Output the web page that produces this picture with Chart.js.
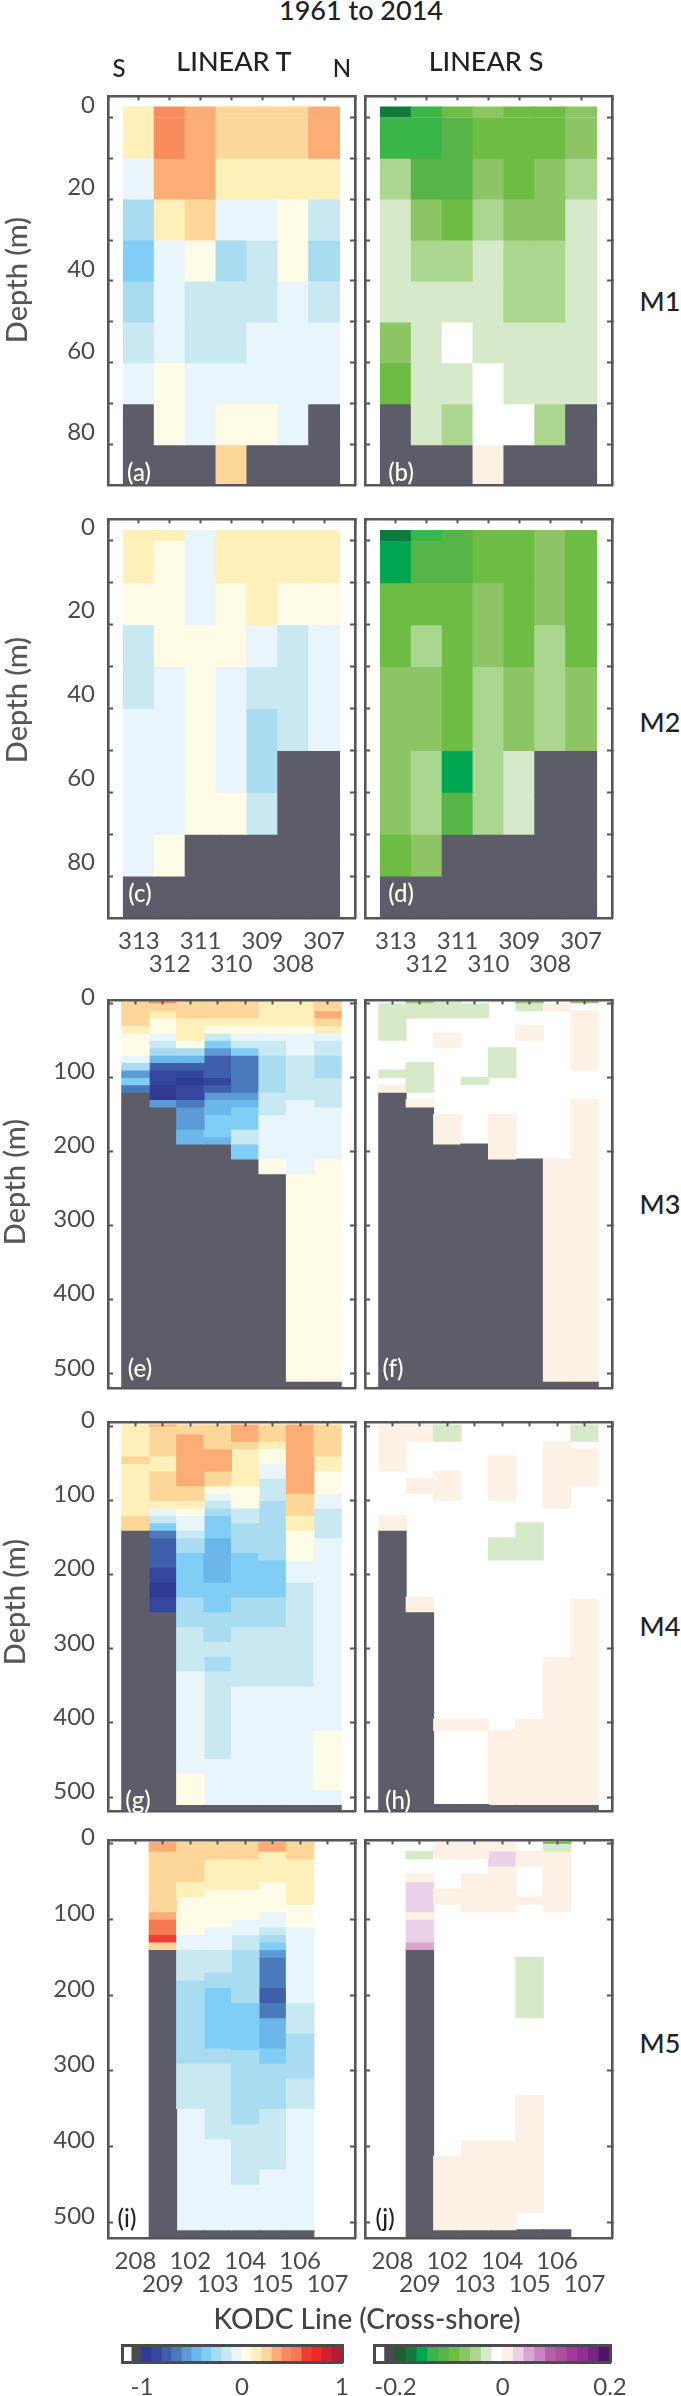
<!DOCTYPE html>
<html>
<head>
<meta charset="utf-8">
<title>1961 to 2014</title>
<script src="https://cdn.jsdelivr.net/npm/chart.js@4"></script>
<style>
html,body{margin:0;padding:0;background:#fff;width:681px;height:2396px;overflow:hidden;font-family:Lato,sans-serif}
canvas{position:absolute}
.t{position:absolute;transform:translate(-50%,-50%);white-space:nowrap;line-height:1;font-weight:500}
</style>
</head>
<body>
<script>
// --- Categories and axis ticks
const stationsM12 = ['313','312','311','310','309','308','307'];
const stationsM3  = ['','','','','','','',''];
const stationsM5  = ['208','209','102','103','104','105','106','107'];
const shelfDepthTicks = [0,10,20,30,40,50,60,70,80];
const deepDepthTicks  = [0,100,200,300,400,500];
const shelfRowEdges = [-2.5,0,10,20,30,40,50,60,70,80,90];

// --- Colour classes: T in 0.01 units from -1 to 1, S in 0.001 units from -0.2 to 0.2
const paletteT = ['#2e3a94','#34479f','#3f5fac','#4a7abb','#5b9ad5','#6cb7e9','#80cdf6','#a9dcf1','#c8e8f2','#e8f5fa',
                  '#fffbe6','#fff0b9','#fdd799','#fbad75','#f98c5c','#f47a50','#ef3d33','#ee2a2a','#d21f2e','#b61c30'];
const paletteS = ['#1f5f2e','#0f7a3c','#00a651','#39b54a','#57b446','#6dbd45','#8dc464','#abd690','#d6e9c8','#ffffff',
                  '#fdf1e6','#ebd0e9','#dda4cf','#c884bf','#b75fa8','#ab4f9f','#a73a98','#962d91','#7a2484','#4e1664'];
const landColor = '#5d5d69';
const L = null; // land / below bottom

// --- Series values: M1, M2 rows (top to bottom) by station
const tM1 = [
 [15,45,35,25,25,25,35],
 [15,45,35,25,25,25,35],
 [-5,35,35,15,15,15,15],
 [-25,15,25,-5,-5,5,-15],
 [-35,-5,5,-25,-15,5,-25],
 [-25,-5,-15,-15,-15,-5,-15],
 [-15,-5,-15,-15,-5,-5,-5],
 [-5,5,-5,-5,-5,-5,-5],
 [L,5,-5,5,5,-5,L],
 [L,L,L,25,L,L,L]];
const sM1 = [
 [-170,-130,-90,-70,-90,-90,-70],
 [-130,-130,-110,-90,-90,-90,-70],
 [-50,-110,-110,-70,-90,-70,-50],
 [-30,-70,-90,-50,-70,-70,-30],
 [-30,-50,-50,-30,-50,-50,-30],
 [-30,-30,-30,-30,-50,-50,-30],
 [-70,-30,-10,-30,-30,-30,-30],
 [-90,-30,-30,-10,-30,-30,-30],
 [L,-30,-50,-10,-10,-50,L],
 [L,L,L,10,L,L,L]];
const tM2 = [
 [15,15,-5,15,15,15,15],
 [15,5,-5,15,15,15,15],
 [5,5,-5,5,15,5,5],
 [-15,5,5,5,-5,-15,-5],
 [-15,-5,5,-5,-15,-15,-5],
 [-5,-5,5,-5,-25,-15,-5],
 [-5,-5,5,-5,-25,L,L],
 [-5,-5,5,5,-15,L,L],
 [-5,5,L,L,L,L,L],
 [L,L,L,L,L,L,L]];
const sM2 = [
 [-170,-130,-110,-90,-90,-70,-90],
 [-150,-110,-110,-90,-90,-70,-90],
 [-90,-90,-90,-70,-90,-70,-90],
 [-90,-50,-90,-70,-90,-50,-90],
 [-70,-70,-90,-50,-70,-50,-70],
 [-70,-70,-90,-50,-70,-50,-70],
 [-70,-50,-150,-50,-30,L,L],
 [-70,-50,-110,-50,-30,L,L],
 [-90,-70,L,L,L,L,L],
 [L,L,L,L,L,L,L]];

// --- Series values: M3 to M5, per station a list of [top depth, bottom depth, value]
const tM3 = [
 [[-2,30,25],[30,40,15],[40,70,5],[70,80,-5],[80,90,-25],[90,100,-55],[100,110,-35],[110,120,-65],[120,520,L]],
 [[-2,0,45],[0,10,25],[10,20,15],[20,40,5],[40,50,-5],[50,60,-15],[60,70,-25],[70,80,-45],[80,90,-75],[90,110,-85],[110,130,-95],[130,140,-55],[140,520,L]],
 [[-2,20,25],[20,50,15],[50,60,5],[60,70,-25],[70,80,-45],[80,90,-75],[90,100,-85],[100,110,-95],[110,130,-85],[130,140,-65],[140,170,-55],[170,190,-45],[190,520,L]],
 [[-2,20,25],[20,30,15],[30,40,5],[40,50,-15],[50,60,-35],[60,70,-55],[70,100,-75],[100,110,-85],[110,120,-75],[120,130,-55],[130,150,-45],[150,180,-35],[180,190,-45],[190,520,L]],
 [[-2,20,25],[20,30,15],[30,40,5],[40,50,-5],[50,60,-15],[60,70,-35],[70,120,-65],[120,130,-55],[130,140,-45],[140,170,-35],[170,190,-15],[190,210,-35],[210,520,L]],
 [[-2,30,15],[30,40,5],[40,50,-5],[50,70,-15],[70,120,-25],[120,150,-15],[150,210,-5],[210,230,5],[230,520,L]],
 [[-2,30,15],[30,40,5],[40,70,-5],[70,130,-15],[130,230,-5],[230,510,5],[510,520,L]],
 [[-2,10,25],[10,20,35],[20,30,25],[30,40,15],[40,50,-5],[50,70,-15],[70,100,-25],[100,140,-15],[140,210,-5],[210,510,5],[510,520,L]]];
const sM3 = [
 [[0,50,-30],[90,100,-30],[110,120,10],[120,520,L]],
 [[-2,0,-70],[0,20,-30],[80,120,-30],[130,140,10],[140,520,L]],
 [[-2,20,-30],[40,60,10],[150,190,10],[190,520,L]],
 [[0,20,-30],[100,110,-30],[190,520,L]],
 [[60,100,-30],[150,210,10],[210,520,L]],
 [[-2,0,-70],[0,10,-30],[30,50,10],[210,520,L]],
 [[0,10,10],[210,510,10],[510,520,L]],
 [[-2,0,-70],[10,90,10],[130,510,10],[510,520,L]]];
const tM4 = [
 [[-2,40,15],[40,50,25],[50,120,15],[120,140,25],[140,520,L]],
 [[-2,0,35],[0,40,25],[40,60,15],[60,100,25],[100,110,15],[110,120,-5],[120,130,-15],[130,140,-35],[140,150,-65],[150,190,-75],[190,210,-85],[210,230,-95],[230,250,-85],[250,520,L]],
 [[-2,10,25],[10,80,35],[80,100,25],[100,110,15],[110,120,5],[120,140,-5],[140,150,-15],[150,170,-25],[170,230,-35],[230,270,-25],[270,330,-15],[330,468,-5],[468,510,5],[510,520,L]],
 [[-2,30,25],[30,60,35],[60,80,25],[80,90,5],[90,100,-5],[100,110,-15],[110,120,-25],[120,150,-35],[150,210,-45],[210,250,-35],[250,290,-25],[290,310,-15],[310,330,-25],[330,448,-15],[448,510,-5],[510,520,L]],
 [[-2,20,35],[20,30,25],[30,80,15],[80,110,5],[110,130,-15],[130,170,-25],[170,230,-35],[230,270,-25],[270,350,-15],[350,510,-5],[510,520,L]],
 [[-2,20,25],[20,30,15],[30,50,5],[50,70,-5],[70,100,-15],[100,180,-25],[180,230,-35],[230,270,-25],[270,350,-15],[350,510,-5],[510,520,L]],
 [[-2,90,35],[90,120,25],[120,140,15],[140,180,5],[180,210,-5],[210,350,-15],[350,510,-5],[510,520,L]],
 [[-2,40,25],[40,60,15],[60,90,5],[90,110,-5],[110,150,-15],[150,410,-5],[410,490,5],[490,510,-5],[510,520,L]]];
const sM4 = [
 [[-2,60,10],[120,140,10],[140,520,L]],
 [[-2,20,10],[70,90,10],[230,250,10],[250,520,L]],
 [[-2,20,-30],[60,100,10],[395,410,10],[510,520,L]],
 [[395,410,10],[510,520,L]],
 [[40,100,10],[150,180,-30],[410,510,10],[510,520,L]],
 [[130,180,-30],[395,510,10],[510,520,L]],
 [[20,110,10],[312,510,10],[510,520,L]],
 [[-2,20,-30],[30,80,10],[233,510,10],[510,520,L]]];
const tM5 = [
 [],
 [[-2,10,35],[10,90,25],[90,100,35],[100,120,55],[120,130,65],[130,140,25],[140,520,L]],
 [[-2,50,25],[50,70,15],[70,120,5],[120,140,-5],[140,180,-15],[180,290,-25],[290,350,-15],[350,510,-5],[510,520,L]],
 [[-2,20,25],[20,60,15],[60,110,5],[110,140,-5],[140,170,-15],[170,190,-25],[190,270,-35],[270,290,-25],[290,390,-15],[390,510,-5],[510,520,L]],
 [[-2,20,25],[20,60,15],[60,100,5],[100,120,-5],[120,140,-15],[140,210,-25],[210,272,-35],[272,370,-25],[370,450,-15],[450,510,-5],[510,520,L]],
 [[-2,10,35],[10,50,15],[50,90,5],[90,110,-5],[110,120,-15],[120,130,-25],[130,140,-35],[140,150,-55],[150,190,-65],[190,210,-75],[210,230,-65],[230,270,-45],[270,290,-35],[290,350,-25],[350,430,-15],[430,510,-5],[510,520,L]],
 [[-2,20,25],[20,80,15],[80,110,5],[110,210,-5],[210,250,-15],[250,310,-25],[310,350,-15],[350,510,-5],[510,520,L]],
 []];
const sM5 = [
 [],
 [[10,20,-30],[40,50,10],[50,90,30],[90,100,10],[100,130,30],[130,140,50],[140,520,L]],
 [[-2,20,10],[60,80,10],[413,510,10],[510,520,L]],
 [[-2,20,10],[40,90,10],[393,510,10],[510,520,L]],
 [[-2,10,10],[10,30,30],[30,90,10],[393,510,10],[510,520,L]],
 [[10,30,10],[70,80,10],[150,230,-30],[333,488,10],[510,520,L]],
 [[-2,0,-90],[0,10,-30],[10,90,10],[510,520,L]],
 []];

// --- Colour bar ranges
const barRangeT = {min:-1, step:0.1};
const barRangeS = {min:-0.2, step:0.02};
const barTicksT = [-1,0,1];
const barTicksS = [-0.2,0,0.2];

// --- Helpers
const inkAxis = '#55555a', inkText = '#4a4a4f', FONT = 'Lato, sans-serif';
function colorT(v){ return v===null ? landColor : paletteT[Math.floor((v+100)/10)]; }
function colorS(v){ return v===null ? landColor : paletteS[Math.floor((v+200)/20)]; }

// rows x stations -> list of [top,bot,v] per station
function rowsToColumns(rows){
  return rows[0].map((_,c)=> rows.map((r,i)=>[shelfRowEdges[i],shelfRowEdges[i+1],r[c]]));
}
function datasetsFrom(columns,colorFn){
  const layers = Math.max(...columns.map(c=>c.length));
  const out = [];
  for(let k=0;k<layers;k++){
    const data=[null], colors=[null];
    columns.forEach(col=>{
      const cell = col[k];
      data.push(cell?[cell[0],cell[1]]:null);
      colors.push(cell?colorFn(cell[2]):null);
    });
    data.push(null); colors.push(null);
    out.push({data,backgroundColor:colors,borderWidth:0,borderSkipped:false,inflateAmount:0.5,
              categoryPercentage:1,barPercentage:1,grouped:false,yAxisID:'y',xAxisID:'x'});
  }
  return out;
}
function newCanvas(px,py,pw,ph,m){
  const c=document.createElement('canvas');
  c.width=pw+m.l+m.r; c.height=ph+m.t+m.b;
  c.style.left=(px-m.l)+'px'; c.style.top=(py-m.t)+'px';
  c.style.width=c.width+'px'; c.style.height=c.height+'px';
  document.body.appendChild(c);
  return c;
}
const fix = (key,val)=> (s)=>{ s[key]=val; };
function panel(cfg){
  const {box,columns,colorFn,stations,showStations,showDepth,yMin,yMax,yTicks,labelStep,labelOffset} = cfg;
  const m={l:108,r:24,t:24,b:showStations?74:24};
  const canvas=newCanvas(box.x,box.y,box.w,box.h,m);
  const labels=['',...stations,''].map((s,i)=>{
    if(!showStations||!s) return '';
    return i%2===1?[s]:['',s];
  });
  const setTicks=(s)=>{ s.ticks=yTicks.map(v=>({value:v})); };
  const ySide=(position,width,labelled)=>({
    type:'linear',position,reverse:true,min:yMin,max:yMax,afterBuildTicks:setTicks,afterFit:fix('width',width),
    border:{display:true,color:inkAxis,width:2.6,z:1},
    grid:{drawOnChartArea:false,drawTicks:true,tickLength:-5,tickWidth:2,tickColor:inkAxis,z:1},
    ticks:{autoSkip:false,maxRotation:0,color:inkText,padding:18,labelOffset,font:{family:FONT,size:24},z:1,
           callback:labelled?(v=>v%labelStep===0?String(v):''):(()=>'')}
  });
  const topTickLabels=['',...stations.map(()=>'-'),''];
  new Chart(canvas,{
    type:'bar',
    data:{labels,datasets:datasetsFrom(columns,colorFn)},
    options:{
      responsive:false,animation:false,devicePixelRatio:1,
      layout:{padding:0},
      plugins:{legend:{display:false},tooltip:{enabled:false},title:{display:false}},
      scales:{
        x:{type:'category',position:'bottom',offset:false,afterFit:fix('height',m.b),
           border:{display:true,color:inkAxis,width:2.6,z:1},
           grid:{offset:false,drawOnChartArea:false,drawTicks:false,z:1},
           ticks:{autoSkip:false,maxRotation:0,minRotation:0,color:inkText,padding:12,
                  font:{family:FONT,size:24,lineHeight:0.96}}},
        xTop:{type:'category',position:'top',offset:false,labels:topTickLabels,afterFit:fix('height',m.t),
           border:{display:true,color:inkAxis,width:2.6,z:1},
           grid:{offset:false,drawOnChartArea:false,drawTicks:true,tickLength:-4,tickWidth:2,tickColor:inkAxis,z:1},
           ticks:{autoSkip:false,maxRotation:0,callback:()=>'' ,font:{size:1}}},
        y:ySide('left',m.l,showDepth),
        yRight:ySide('right',m.r,false)
      }
    }
  });
}
function colorBar(cfg){
  const {box,palette,range,barTicks,labelOf} = cfg;
  const m={l:40,r:40,t:14,b:40};
  const canvas=newCanvas(box.x,box.y,box.w,box.h,m);
  const {min,step}=range;
  const seg=palette.map((c,i)=>({x:min+step*(i+0.5),y:[0,1]}));
  const extra=[{x:min-step*1.5,y:[0,1]},{x:min-step*0.5,y:[0,1]}];
  const frame={type:'linear',display:true,afterFit:fix('width',m.l),min:0,max:1,
     border:{display:true,color:inkText,width:3,z:1},grid:{display:false},ticks:{display:false}};
  new Chart(canvas,{
    type:'bar',
    data:{datasets:[{data:[...extra,...seg],backgroundColor:['#ffffff',inkText,...palette],
      borderWidth:0,borderSkipped:false,inflateAmount:0.5,categoryPercentage:1,barPercentage:1}]},
    options:{
      responsive:false,animation:false,devicePixelRatio:1,layout:{padding:0},
      plugins:{legend:{display:false},tooltip:{enabled:false}},
      scales:{
        x:{type:'linear',position:'bottom',offset:false,min:min-2*step,max:min+20*step,afterFit:fix('height',m.b),
           afterBuildTicks:(s)=>{s.ticks=barTicks.map(v=>({value:v}));},
           border:{display:true,color:inkText,width:3,z:1},
           grid:{display:false,offset:false},
           ticks:{autoSkip:false,maxRotation:0,color:inkText,padding:3,font:{family:FONT,size:24},callback:labelOf}},
        xTop:{type:'linear',position:'top',min:min-2*step,max:min+20*step,afterFit:fix('height',m.t),
           border:{display:true,color:inkText,width:3,z:1},grid:{display:false},ticks:{display:false}},
        y:{...frame,position:'left'},
        yRight:{...frame,position:'right',afterFit:fix('width',m.r)}
      }
    }
  });
}

// --- Panels
const colL={x:108,w:247.5}, colR={x:365,w:247};
const rowsGeom={
  M1:{y:88,h:406,yMin:-5.1,yMax:90,yTicks:shelfDepthTicks,labelStep:20},
  M2:{y:511,h:407,yMin:-5.13,yMax:90,yTicks:shelfDepthTicks,labelStep:20},
  M3:{y:992,h:405,yMin:-3.9,yMax:520,yTicks:deepDepthTicks,labelStep:100},
  M4:{y:1414,h:406,yMin:-5.5,yMax:519.6,yTicks:deepDepthTicks,labelStep:100},
  M5:{y:1832,h:406,yMin:-4.3,yMax:521,yTicks:deepDepthTicks,labelStep:100}
};
const panels=[
 ['M1',rowsToColumns(tM1),rowsToColumns(sM1),stationsM12,false,-12],
 ['M2',rowsToColumns(tM2),rowsToColumns(sM2),stationsM12,true,-14],
 ['M3',tM3,sM3,stationsM3,false,-6],
 ['M4',tM4,sM4,stationsM3,false,-6],
 ['M5',tM5,sM5,stationsM5,true,-6]
];
panels.forEach(([name,tCols,sCols,stations,showStations,labelOffset])=>{
  const g=rowsGeom[name];
  const common={stations,showStations,yMin:g.yMin,yMax:g.yMax,yTicks:g.yTicks,labelStep:g.labelStep,labelOffset};
  panel({...common,box:{x:colL.x,y:g.y,w:colL.w,h:g.h},columns:tCols,colorFn:colorT,showDepth:true});
  panel({...common,box:{x:colR.x,y:g.y,w:colR.w,h:g.h},columns:sCols,colorFn:colorS,showDepth:false});
});
colorBar({box:{x:122,y:2345,w:220,h:17},palette:paletteT,range:barRangeT,barTicks:barTicksT,labelOf:v=>String(v)});
colorBar({box:{x:374,y:2345,w:236,h:17},palette:paletteS,range:barRangeS,barTicks:barTicksS,labelOf:v=>String(v)});

// --- Text labels
const texts=[
 ['1961 to 2014',361,9,27,'#222',0],
 ['LINEAR T',234,60,27,'#222',0],['LINEAR S',486,60,27,'#222',0],
 ['S',119,68,24,'#222',0],['N',342,68,24,'#222',0],
 ['Depth (m)',15,280,29,'#55555a',-90],['Depth (m)',15,700,29,'#55555a',-90],
 ['Depth (m)',13,1182,29,'#55555a',-90],['Depth (m)',13,1602,29,'#55555a',-90],
 ['M1',660,300,27,'#222',0],['M2',660,721,27,'#222',0],['M3',660,1203,27,'#222',0],['M4',660,1625,27,'#222',0],['M5',660,2042,27,'#222',0],
 ['KODC Line (Cross-shore)',367,2318,28,'#444',0],
 ['(a)',139,472,24,'#fffdee',0],['(b)',401,472,24,'#fffdee',0],
 ['(c)',140,893,24,'#fffdee',0],['(d)',401,893,24,'#fffdee',0],
 ['(e)',140,1368,24,'#fffdee',0],['(f)',393,1368,24,'#fffdee',0],
 ['(g)',138,1800,24,'#fffdee',0],['(h)',398,1800,24,'#fffdee',0],
 ['(i)',127,2218,24,'#222',0],['(j)',385,2218,24,'#222',0]
];
texts.forEach(([s,x,y,size,color,rot])=>{
  const d=document.createElement('div');
  d.className='t'; d.textContent=s;
  d.style.left=x+'px'; d.style.top=y+'px'; d.style.fontSize=size+'px'; d.style.color=color;
  if(rot) d.style.transform='translate(-50%,-50%) rotate('+rot+'deg)';
  document.body.appendChild(d);
});
</script>
</body>
</html>
